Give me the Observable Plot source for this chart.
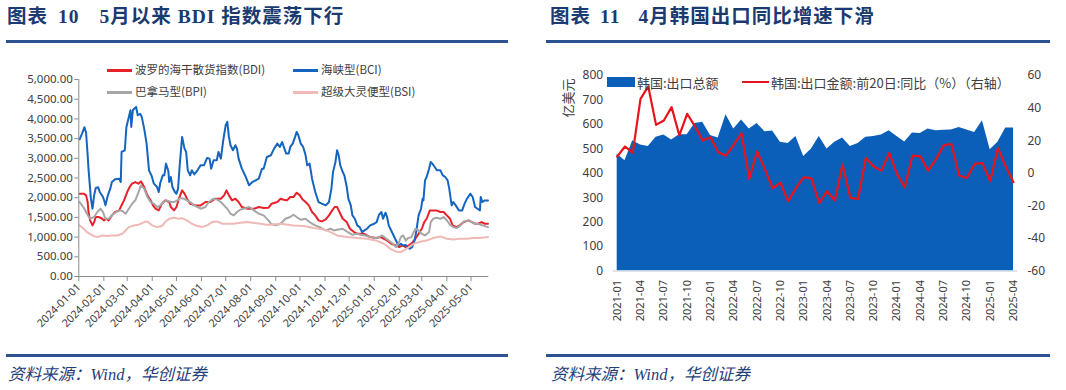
<!DOCTYPE html>
<html><head><meta charset="utf-8">
<script src="https://cdn.jsdelivr.net/npm/d3@7"></script>
<script src="https://cdn.jsdelivr.net/npm/@observablehq/plot@0.6"></script>
<style>
body{margin:0;background:#fff;}
#root{position:relative;width:1066px;height:390px;overflow:hidden;background:#fff;}
.abs{position:absolute;}
.title{font-family:"Liberation Serif","Noto Sans CJK SC",serif;font-weight:700;font-size:19.5px;color:#1a3a70;letter-spacing:1px;white-space:pre;line-height:1;}
.rule{height:2.5px;background:#2c5291;}
.src{font-family:"Liberation Serif","Noto Sans CJK SC",serif;font-style:italic;font-size:16.5px;color:#1f3e7a;white-space:pre;line-height:1;}
.leg{font-family:"Noto Sans CJK SC",sans-serif;color:#404040;white-space:pre;line-height:1;}
.lline{height:2.5px;}
#left svg [aria-label="x-axis tick label"]{font-size:10.8px;}
#right svg [aria-label="x-axis tick label"]{font-size:11px;}
svg [aria-label="y-axis tick"], svg [aria-label="x-axis tick"]{stroke:#8c8c8c;}
</style>
</head><body>
<div id="root">
  <div class="abs title" style="left:7px;top:7px;"><span>图表</span><span style="margin-left:10px">10</span><span style="margin-left:20px">5月以来 BDI 指数震荡下行</span></div>
  <div class="abs title" style="left:550px;top:7px;"><span>图表</span><span style="margin-left:9px">11</span><span style="margin-left:18px">4月韩国出口同比增速下滑</span></div>
  <div class="abs rule" style="left:6px;top:40px;width:502px;"></div>
  <div class="abs rule" style="left:546px;top:40px;width:504px;"></div>
  <div class="abs rule" style="left:6px;top:354px;width:502px;"></div>
  <div class="abs rule" style="left:546px;top:354px;width:504px;"></div>
  <div class="abs src" style="left:8px;top:367px;">资料来源：Wind，华创证券</div>
  <div class="abs src" style="left:551px;top:367px;">资料来源：Wind，华创证券</div>
  <div id="left" class="abs" style="left:0;top:0;"></div>
  <div id="right" class="abs" style="left:533px;top:0;"></div>
  <!-- legends -->
  <div class="abs lline" style="left:107px;top:69px;width:25px;background:#e8202a;"></div>
  <div class="abs leg" style="left:135px;top:64px;font-size:11.5px;">波罗的海干散货指数(BDI)</div>
  <div class="abs lline" style="left:293px;top:69px;width:25px;background:#1565c0;"></div>
  <div class="abs leg" style="left:321px;top:64px;font-size:11.5px;">海峡型(BCI)</div>
  <div class="abs lline" style="left:107px;top:91px;width:25px;background:#a6a6a6;"></div>
  <div class="abs leg" style="left:135px;top:86px;font-size:11.5px;">巴拿马型(BPI)</div>
  <div class="abs lline" style="left:293px;top:91px;width:25px;background:#f0b9b6;"></div>
  <div class="abs leg" style="left:321px;top:86px;font-size:11.5px;">超级大灵便型(BSI)</div>
  <div class="abs" style="left:607px;top:77px;width:28px;height:10px;background:#0b5fb8;"></div>
  <div class="abs leg" style="left:637px;top:75.5px;font-size:13px;">韩国:出口总额</div>
  <div class="abs lline" style="left:742px;top:80.5px;width:27px;background:#e8141c;"></div>
  <div class="abs leg" style="left:771px;top:75.5px;font-size:13px;">韩国:出口金额:前20日:同比（%）（右轴）</div>
  <div class="abs leg" style="left:567px;top:98px;font-size:13px;transform:translate(-50%,-50%) rotate(-90deg);">亿美元</div>
</div>
<script>
// ---------- Left chart data (BDI family indices) ----------
const bdi = [["2024-01-02",2102],["2024-01-07",2102],["2024-01-10",2059],["2024-01-12",1890],["2024-01-13",1636],["2024-01-15",1424],["2024-01-18",1297],["2024-01-20",1381],["2024-01-22",1509],["2024-01-26",1509],["2024-01-30",1466],["2024-02-01",1424],["2024-02-04",1466],["2024-02-07",1424],["2024-02-11",1551],["2024-02-15",1636],["2024-02-20",1678],["2024-02-22",1763],["2024-02-26",1932],["2024-03-01",2144],["2024-03-04",2271],["2024-03-07",2356],["2024-03-11",2398],["2024-03-15",2356],["2024-03-18",2415],["2024-03-22",2271],["2024-03-26",2059],["2024-03-30",1932],["2024-04-02",1805],["2024-04-05",1720],["2024-04-09",1678],["2024-04-13",1848],["2024-04-17",1932],["2024-04-22",1890],["2024-04-24",1763],["2024-04-28",1678],["2024-05-01",1763],["2024-05-04",1975],["2024-05-08",2187],["2024-05-11",2102],["2024-05-14",1975],["2024-05-18",1848],["2024-05-25",1805],["2024-05-31",1805],["2024-06-06",1890],["2024-06-12",1890],["2024-06-18",1975],["2024-06-25",1975],["2024-06-29",2059],["2024-07-02",2187],["2024-07-05",2059],["2024-07-09",1932],["2024-07-13",1975],["2024-07-17",1890],["2024-07-21",1763],["2024-07-28",1720],["2024-08-05",1720],["2024-08-11",1763],["2024-08-17",1740],["2024-08-23",1745],["2024-08-27",1848],["2024-09-03",1890],["2024-09-07",1975],["2024-09-11",1950],["2024-09-15",1932],["2024-09-19",2017],["2024-09-23",2017],["2024-09-27",2127],["2024-10-01",2059],["2024-10-04",1958],["2024-10-08",1890],["2024-10-12",1805],["2024-10-16",1636],["2024-10-20",1551],["2024-10-24",1424],["2024-10-28",1398],["2024-11-02",1449],["2024-11-06",1551],["2024-11-10",1678],["2024-11-13",1763],["2024-11-16",1763],["2024-11-19",1636],["2024-11-23",1466],["2024-11-28",1381],["2024-12-02",1212],["2024-12-07",1127],["2024-12-11",1085],["2024-12-15",1085],["2024-12-19",1085],["2024-12-23",1042],["2024-12-27",1000],["2025-01-03",975],["2025-01-09",1000],["2025-01-13",958],["2025-01-17",915],["2025-01-22",831],["2025-01-28",788],["2025-02-01",746],["2025-02-05",788],["2025-02-09",746],["2025-02-13",788],["2025-02-17",856],["2025-02-21",958],["2025-02-25",1085],["2025-03-01",1212],["2025-03-04",1381],["2025-03-07",1466],["2025-03-11",1678],["2025-03-15",1678],["2025-03-19",1678],["2025-03-24",1636],["2025-03-28",1636],["2025-04-01",1551],["2025-04-05",1466],["2025-04-08",1297],["2025-04-13",1254],["2025-04-17",1297],["2025-04-22",1381],["2025-04-28",1424],["2025-05-02",1381],["2025-05-06",1339],["2025-05-10",1339],["2025-05-14",1381],["2025-05-18",1339],["2025-05-22",1339]];

const bci = [["2024-01-02",3483],["2024-01-05",3627],["2024-01-08",3790],["2024-01-10",3650],["2024-01-12",3076],["2024-01-13",2737],["2024-01-15",2229],["2024-01-16",1975],["2024-01-18",1720],["2024-01-20",2059],["2024-01-22",2246],["2024-01-25",2263],["2024-01-27",2144],["2024-01-31",2017],["2024-02-02",1890],["2024-02-03",1805],["2024-02-06",2059],["2024-02-09",2229],["2024-02-11",2398],["2024-02-15",2466],["2024-02-20",2483],["2024-02-22",2400],["2024-02-23",3161],["2024-02-27",3204],["2024-02-29",3797],["2024-03-03",4051],["2024-03-05",4220],["2024-03-06",3797],["2024-03-08",4220],["2024-03-10",4263],["2024-03-12",4305],["2024-03-14",4093],["2024-03-17",4130],["2024-03-19",4051],["2024-03-22",3754],["2024-03-25",3373],["2024-03-28",2695],["2024-03-31",2568],["2024-04-03",2356],["2024-04-07",2271],["2024-04-09",2144],["2024-04-11",2381],["2024-04-14",2568],["2024-04-16",2568],["2024-04-18",2865],["2024-04-21",2670],["2024-04-22",2398],["2024-04-24",2525],["2024-04-26",2271],["2024-04-29",2144],["2024-05-01",2102],["2024-05-03",2229],["2024-05-05",2822],["2024-05-08",3543],["2024-05-11",3246],["2024-05-13",3161],["2024-05-15",2695],["2024-05-18",2568],["2024-05-20",2695],["2024-05-23",2593],["2024-05-27",2695],["2024-05-31",2822],["2024-06-04",2822],["2024-06-08",3009],["2024-06-11",2992],["2024-06-13",2737],["2024-06-16",2949],["2024-06-20",2949],["2024-06-22",3161],["2024-06-25",2992],["2024-06-28",3458],["2024-07-01",3839],["2024-07-03",3924],["2024-07-05",3543],["2024-07-07",3331],["2024-07-10",3204],["2024-07-13",3331],["2024-07-15",3246],["2024-07-17",2992],["2024-07-21",2737],["2024-07-26",2525],["2024-07-30",2314],["2024-08-03",2398],["2024-08-07",2441],["2024-08-11",2483],["2024-08-15",2737],["2024-08-17",2737],["2024-08-21",3034],["2024-08-26",3076],["2024-08-30",3246],["2024-09-03",3373],["2024-09-06",3288],["2024-09-09",3415],["2024-09-11",3288],["2024-09-14",3119],["2024-09-17",3119],["2024-09-19",3288],["2024-09-22",3373],["2024-09-25",3543],["2024-09-27",3670],["2024-09-29",3585],["2024-10-02",3373],["2024-10-05",3288],["2024-10-08",3076],["2024-10-10",2822],["2024-10-13",2865],["2024-10-16",2483],["2024-10-20",2144],["2024-10-24",1890],["2024-10-28",1848],["2024-11-02",1805],["2024-11-06",1890],["2024-11-09",2229],["2024-11-11",2653],["2024-11-14",2907],["2024-11-16",3204],["2024-11-18",3076],["2024-11-20",2822],["2024-11-23",2653],["2024-11-25",2568],["2024-11-28",2271],["2024-11-30",1975],["2024-12-03",1805],["2024-12-05",1551],["2024-12-08",1466],["2024-12-11",1297],["2024-12-14",1254],["2024-12-17",1127],["2024-12-20",1169],["2024-12-23",1212],["2024-12-27",1297],["2025-01-01",1339],["2025-01-04",1381],["2025-01-07",1568],["2025-01-10",1636],["2025-01-12",1466],["2025-01-15",1619],["2025-01-17",1509],["2025-01-19",1297],["2025-01-24",1085],["2025-01-28",915],["2025-01-31",788],["2025-02-03",831],["2025-02-06",788],["2025-02-09",800],["2025-02-12",746],["2025-02-14",703],["2025-02-17",746],["2025-02-20",915],["2025-02-22",1127],["2025-02-25",1551],["2025-02-28",1720],["2025-03-02",1975],["2025-03-03",1932],["2025-03-05",2441],["2025-03-07",2525],["2025-03-10",2737],["2025-03-12",2907],["2025-03-14",2865],["2025-03-17",2780],["2025-03-20",2695],["2025-03-24",2695],["2025-03-27",2568],["2025-03-30",2525],["2025-04-02",2441],["2025-04-04",2229],["2025-04-07",1805],["2025-04-09",1890],["2025-04-12",1805],["2025-04-16",1678],["2025-04-20",1678],["2025-04-23",1848],["2025-04-26",1975],["2025-04-30",2102],["2025-05-03",2017],["2025-05-06",1763],["2025-05-09",1720],["2025-05-12",1678],["2025-05-13",2017],["2025-05-15",1890],["2025-05-18",1932],["2025-05-22",1932]];

const bpi = [["2024-01-02",1890],["2024-01-05",1805],["2024-01-08",1720],["2024-01-11",1593],["2024-01-15",1466],["2024-01-20",1509],["2024-01-24",1636],["2024-01-28",1720],["2024-01-31",1636],["2024-02-03",1466],["2024-02-07",1466],["2024-02-13",1593],["2024-02-20",1678],["2024-02-24",1660],["2024-02-28",1593],["2024-03-03",1720],["2024-03-07",1848],["2024-03-11",1932],["2024-03-15",2144],["2024-03-18",2314],["2024-03-22",2229],["2024-03-26",2017],["2024-03-30",1890],["2024-04-03",1848],["2024-04-07",1763],["2024-04-11",1805],["2024-04-15",1890],["2024-04-19",1932],["2024-04-24",1890],["2024-04-28",1890],["2024-05-02",1932],["2024-05-06",1992],["2024-05-10",1975],["2024-05-14",1932],["2024-05-18",1890],["2024-05-23",1805],["2024-05-27",1763],["2024-05-31",1720],["2024-06-06",1763],["2024-06-10",1890],["2024-06-16",1975],["2024-06-20",1958],["2024-06-25",1890],["2024-06-29",1805],["2024-07-03",1720],["2024-07-07",1593],["2024-07-11",1551],["2024-07-15",1636],["2024-07-19",1695],["2024-07-26",1737],["2024-07-30",1763],["2024-08-05",1678],["2024-08-11",1593],["2024-08-17",1551],["2024-08-23",1424],["2024-08-26",1339],["2024-09-01",1297],["2024-09-07",1339],["2024-09-13",1466],["2024-09-19",1509],["2024-09-23",1568],["2024-09-27",1509],["2024-10-02",1441],["2024-10-08",1466],["2024-10-12",1398],["2024-10-16",1339],["2024-10-20",1297],["2024-10-27",1237],["2024-11-02",1169],["2024-11-08",1212],["2024-11-12",1169],["2024-11-16",1186],["2024-11-23",1212],["2024-11-28",1144],["2024-12-05",1059],["2024-12-11",1085],["2024-12-15",1059],["2024-12-21",1042],["2024-12-27",1000],["2025-01-03",975],["2025-01-07",1000],["2025-01-11",1042],["2025-01-15",975],["2025-01-19",915],["2025-01-24",831],["2025-01-28",746],["2025-01-31",831],["2025-02-03",1000],["2025-02-06",1042],["2025-02-09",915],["2025-02-12",975],["2025-02-16",1000],["2025-02-19",1127],["2025-02-21",1212],["2025-02-25",1169],["2025-03-01",1085],["2025-03-05",1042],["2025-03-10",1127],["2025-03-12",1381],["2025-03-15",1466],["2025-03-19",1492],["2025-03-24",1466],["2025-03-28",1509],["2025-04-01",1424],["2025-04-05",1314],["2025-04-09",1254],["2025-04-13",1229],["2025-04-17",1280],["2025-04-22",1398],["2025-04-28",1424],["2025-05-02",1381],["2025-05-06",1339],["2025-05-10",1339],["2025-05-15",1297],["2025-05-22",1254]];

const bsi = [["2024-01-02",1297],["2024-01-07",1212],["2024-01-11",1127],["2024-01-18",1042],["2024-01-24",1000],["2024-01-30",1042],["2024-02-05",1025],["2024-02-11",1042],["2024-02-18",1042],["2024-02-24",1085],["2024-02-28",1169],["2024-03-03",1254],["2024-03-09",1297],["2024-03-15",1314],["2024-03-22",1381],["2024-03-26",1398],["2024-04-01",1297],["2024-04-07",1254],["2024-04-13",1280],["2024-04-17",1381],["2024-04-22",1466],["2024-04-28",1492],["2024-05-04",1466],["2024-05-08",1480],["2024-05-14",1424],["2024-05-20",1339],["2024-05-27",1280],["2024-06-02",1254],["2024-06-08",1297],["2024-06-14",1381],["2024-06-20",1398],["2024-06-27",1339],["2024-07-03",1339],["2024-07-11",1339],["2024-07-19",1364],["2024-07-28",1381],["2024-08-05",1360],["2024-08-13",1339],["2024-08-21",1314],["2024-08-26",1314],["2024-09-07",1339],["2024-09-23",1297],["2024-10-06",1280],["2024-10-18",1229],["2024-10-31",1195],["2024-11-08",1127],["2024-11-16",1042],["2024-11-28",1000],["2024-12-11",975],["2024-12-23",958],["2025-01-03",915],["2025-01-13",831],["2025-01-21",703],["2025-01-30",619],["2025-02-03",619],["2025-02-07",661],["2025-02-13",746],["2025-02-19",831],["2025-02-28",890],["2025-03-07",915],["2025-03-15",975],["2025-03-24",1017],["2025-04-01",958],["2025-04-09",941],["2025-04-17",958],["2025-04-26",958],["2025-05-04",975],["2025-05-12",975],["2025-05-22",1000]];

const leftYTicks = [0,500,1000,1500,2000,2500,3000,3500,4000,4500,5000];
const leftXTicks = ["2024-01-01","2024-02-01","2024-03-01","2024-04-01","2024-05-01","2024-06-01","2024-07-01","2024-08-01","2024-09-01","2024-10-01","2024-11-01","2024-12-01","2025-01-01","2025-02-01","2025-03-01","2025-04-01","2025-05-01"];
const leftXDomain = ["2024-01-01","2025-05-23"];

// ---------- Right chart data (Korea exports) ----------
const months = ["2021-01","2021-02","2021-03","2021-04","2021-05","2021-06","2021-07","2021-08","2021-09","2021-10","2021-11","2021-12","2022-01","2022-02","2022-03","2022-04","2022-05","2022-06","2022-07","2022-08","2022-09","2022-10","2022-11","2022-12","2023-01","2023-02","2023-03","2023-04","2023-05","2023-06","2023-07","2023-08","2023-09","2023-10","2023-11","2023-12","2024-01","2024-02","2024-03","2024-04","2024-05","2024-06","2024-07","2024-08","2024-09","2024-10","2024-11","2024-12","2025-01","2025-02","2025-03","2025-04"];
const exportTotal = [479,451,533,516,509,547,557,536,558,558,604,609,554,544,639,581,618,581,604,570,573,527,522,550,469,499,550,499,527,544,509,522,547,550,557,574,550,528,565,563,581,574,576,577,587,577,567,615,496,527,585,585];
const export20dYoY = [10.3,16.4,12.6,45.7,53.3,29.7,32.4,40.6,23.2,36.5,28.9,20.1,22.1,12.9,10.8,17.6,24.6,-3.5,13.5,2.7,-9.3,-5.8,-17.1,-9.1,-2.5,-3.1,-18.4,-11,-16.7,5.4,-15.1,-15.7,9.4,4.1,1.6,12.5,-0.4,-8.6,10.8,10.4,1.6,8.3,17.1,18.1,-1.4,-2.9,5.7,6.3,-4.9,15.5,4.1,-5.5];
const rightLeftTicks = [0,100,200,300,400,500,600,700,800];
const rightRightTicks = [-60,-40,-20,0,20,40,60];
const rightXTicks = ["2021-01","2021-04","2021-07","2021-10","2022-01","2022-04","2022-07","2022-10","2023-01","2023-04","2023-07","2023-10","2024-01","2024-04","2024-07","2024-10","2025-01","2025-04"];

const parse = d3.utcParse("%Y-%m-%d");
const baseStyle = {fontFamily:'"Noto Sans","Noto Sans CJK SC",sans-serif', color:"#404040", background:"transparent", overflow:"visible"};

const left = Plot.plot({
  width: 533, height: 340,
  marginLeft: 78.3, marginRight: 44.7, marginTop: 79, marginBottom: 64,
  style: {...baseStyle, fontSize: "11.5px"},
  x: {type: "utc", domain: leftXDomain.map(parse)},
  y: {domain: [0, 5000]},
  marks: [
    Plot.line(bdi, {x: d => parse(d[0]), y: d => d[1], stroke: "#e8202a", strokeWidth: 2}),
    Plot.line(bci, {x: d => parse(d[0]), y: d => d[1], stroke: "#1565c0", strokeWidth: 2}),
    Plot.line(bpi, {x: d => parse(d[0]), y: d => d[1], stroke: "#a6a6a6", strokeWidth: 2}),
    Plot.line(bsi, {x: d => parse(d[0]), y: d => d[1], stroke: "#f0b9b6", strokeWidth: 2}),
    Plot.ruleY([0], {stroke: "#8c8c8c"}),
    Plot.ruleX([parse(leftXDomain[0])], {stroke: "#8c8c8c"}),
    Plot.axisY({ticks: leftYTicks, tickFormat: d3.format(",.2f"), tickSize: 4, tickPadding: 2, label: null}),
    Plot.axisX({ticks: leftXTicks.map(parse), tickFormat: d3.utcFormat("%Y-%m-%d"), tickRotate: -45, tickSize: 5, tickPadding: 4, label: null})
  ]
});
document.getElementById("left").append(left);

const toLeft = v => (v + 60) * 800 / 120;
const fromLeft = y => y * 120 / 800 - 60;
const exportRows = months.map((m, i) => ({m, v: exportTotal[i]}));
const yoyRows = months.map((m, i) => ({m, v: export20dYoY[i]}));

const right = Plot.plot({
  width: 533, height: 340,
  marginLeft: 83.7, marginRight: 53, marginTop: 75, marginBottom: 69.5,
  style: {...baseStyle, fontSize: "12px"},
  x: {type: "point", domain: months, padding: 0},
  y: {domain: [0, 800]},
  marks: [
    Plot.areaY(exportRows, {x: "m", y: "v", fill: "#0b5fb8"}),
    Plot.ruleY([0], {stroke: "#d3dbe6", strokeWidth: 1.5, insetLeft: -4, insetRight: -4}),
    Plot.lineY(yoyRows, {x: "m", y: d => toLeft(d.v), stroke: "#e8141c", strokeWidth: 2.2}),
    Plot.axisY({ticks: rightLeftTicks, tickSize: 0, tickPadding: 14, label: null}),
    Plot.axisY({anchor: "right", ticks: rightRightTicks.map(toLeft), tickFormat: d => String(Math.round(fromLeft(d))), tickSize: 0, tickPadding: 14, label: null}),
    Plot.axisX({ticks: rightXTicks, tickRotate: -90, tickSize: 0, tickPadding: 9, label: null})
  ]
});
document.getElementById("right").append(right);
</script>
</body></html>
